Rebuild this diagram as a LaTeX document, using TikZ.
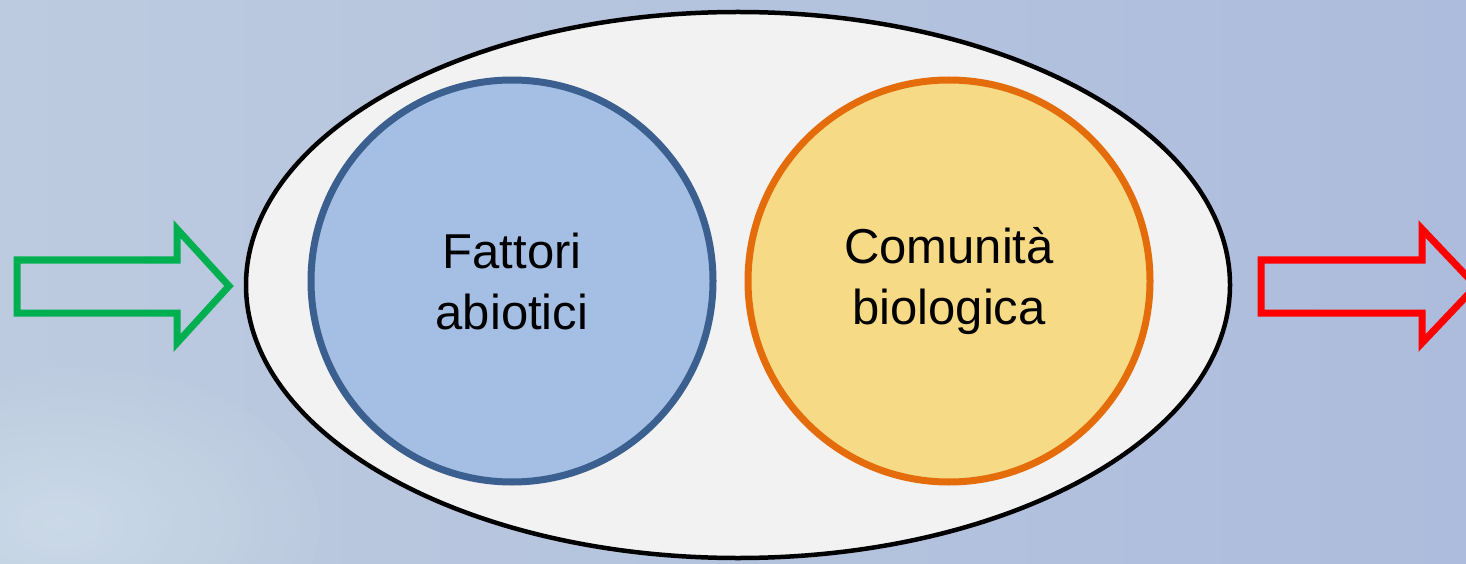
\documentclass[tikz,border=0pt]{standalone}
\usepackage{fontspec}
\setmainfont{Liberation Sans}
\usetikzlibrary{shapes.geometric}
\definecolor{skyA}{HTML}{BCCBDF}
\definecolor{skyB}{HTML}{ADBCDC}
\definecolor{skyC}{HTML}{D2E0EB}
\definecolor{shell}{HTML}{F2F2F2}
\definecolor{abioFill}{HTML}{A4BFE3}
\definecolor{abioLine}{HTML}{3B5F8E}
\definecolor{bioFill}{HTML}{F7DA85}
\definecolor{bioLine}{HTML}{E46C0A}
\definecolor{inGreen}{HTML}{00B050}
\definecolor{outRed}{HTML}{FF0000}
\begin{document}
\begin{tikzpicture}[x=1pt,y=1pt,
  lbl/.style={font=\fontsize{49}{61}\selectfont, align=center, text=black},
  blockarrow/.style={line width=7pt, miter limit=10}]
\useasboundingbox (0,0) rectangle (1466,563);
\clip (0,0) rectangle (1466,563);
% sky background
\shade[left color=skyA, right color=skyB] (0,0) rectangle (1466,563);
\shade[inner color=skyC, outer color=skyA, opacity=0.7] (60,40) ellipse (260 and 160);
% ecosystem shell
\node[draw=black, line width=4.5pt, fill=shell, ellipse, minimum width=984pt, minimum height=546pt, inner sep=0] (eco) at (738,278) {};
% inner circles
\node[draw=abioLine, line width=7pt, fill=abioFill, circle, minimum size=402pt, inner sep=0] (abio) at (512,282) {};
\node[draw=bioLine, line width=7pt, fill=bioFill, circle, minimum size=402pt, inner sep=0] (bio) at (949,282) {};
\node[lbl] (abiotxt) at (abio.center) {Fattori\\abiotici};
\node[lbl] (biotxt) at (bio.center) {Comunità\\biologica};
% input arrow
\draw[blockarrow, draw=inGreen] (17,303) -- (177,303) -- (177,334) -- (229,277) -- (177,220) -- (177,250) -- (17,250) -- cycle;
% output arrow
\draw[blockarrow, draw=outRed] (1261,303) -- (1422,303) -- (1422,334) -- (1476,277) -- (1422,220) -- (1422,250) -- (1261,250) -- cycle;
\end{tikzpicture}
\end{document}
